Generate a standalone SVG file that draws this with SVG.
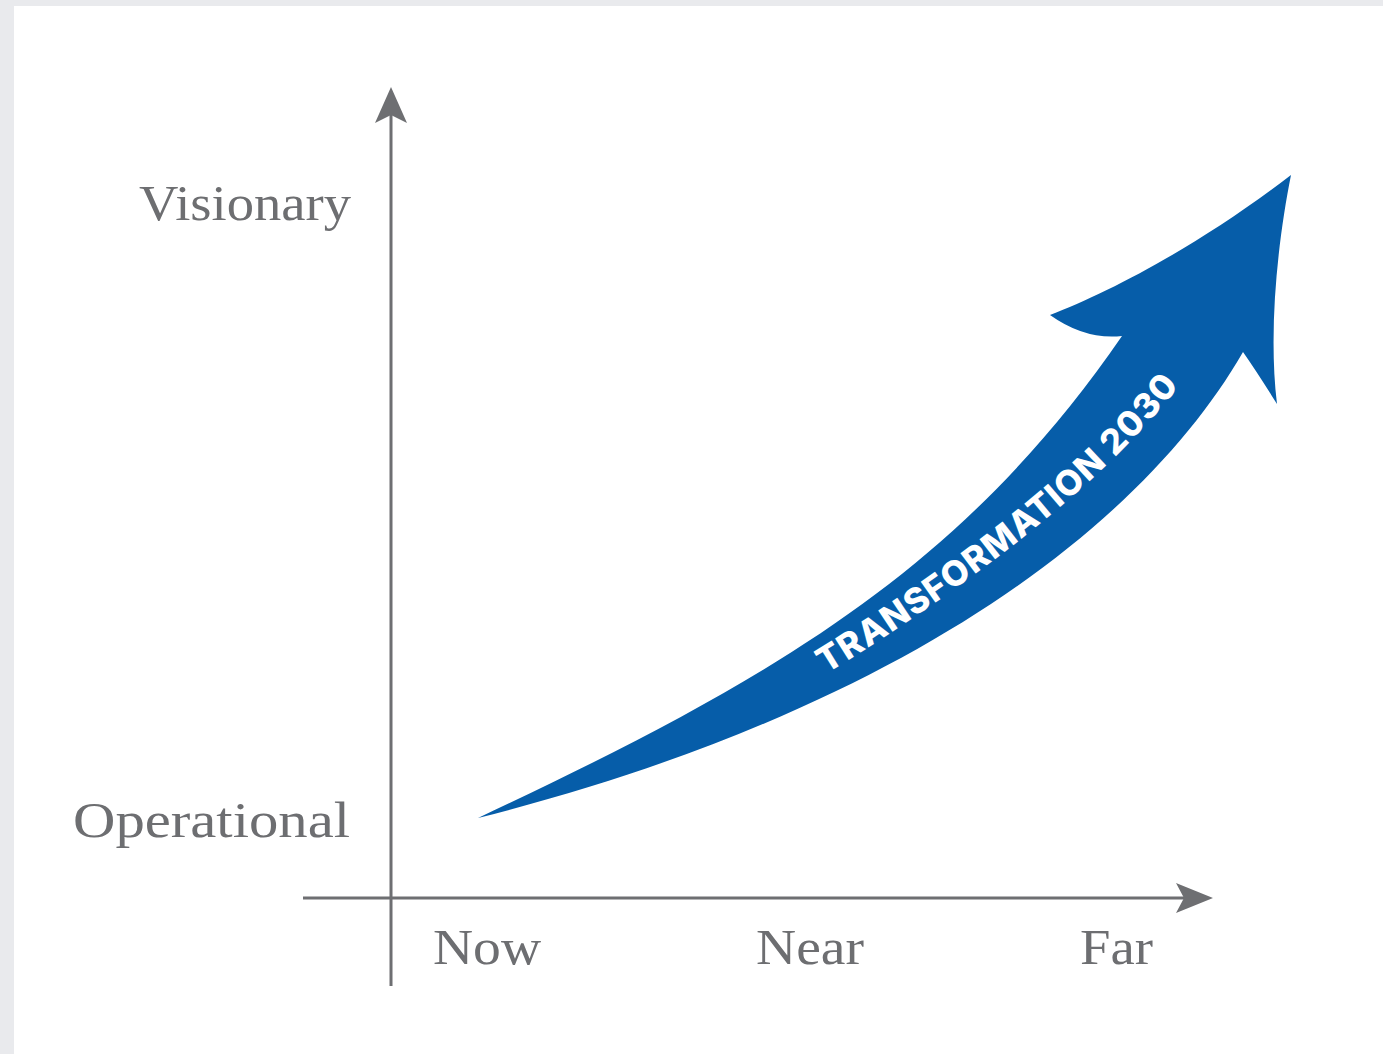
<svg xmlns="http://www.w3.org/2000/svg" width="1383" height="1054" viewBox="0 0 1383 1054">
  <defs>
    <style>
      .axis { stroke: #6e6f72; stroke-width: 3; fill: none; }
      .head { fill: #6e6f72; }
      .lbl { font-family: "Liberation Serif", "DejaVu Serif", serif; font-size: 50px; fill: #6d6e71; }
      .band { fill: #065da9; }
      .bandtxt { font-family: Inter, "Open Sans", "Liberation Sans", sans-serif; font-weight: 800; font-size: 35px; fill: #ffffff; }
    </style>
    <path id="textline" d="M826,674 Q1071,523 1181,384"/>
  </defs>

  <rect x="0" y="0" width="1383" height="1054" fill="#e9eaed"/>
  <rect x="14" y="6" width="1369" height="1048" fill="#ffffff"/>

  <g id="connectors">
    <line class="axis" x1="391" y1="986" x2="391" y2="112"/>
    <polygon class="head" points="391,87 375,123 391,115 407,123"/>
    <line class="axis" x1="303" y1="898" x2="1188" y2="898"/>
    <polygon class="head" points="1213,898 1176,883 1184,898 1176,913"/>
  </g>

  <g id="label-visionary">
    <text class="lbl" x="139" y="220" textLength="212" lengthAdjust="spacingAndGlyphs">Visionary</text>
  </g>
  <g id="label-operational">
    <text class="lbl" x="73" y="837" textLength="277" lengthAdjust="spacingAndGlyphs">Operational</text>
  </g>
  <g id="label-now">
    <text class="lbl" x="433" y="964" textLength="108" lengthAdjust="spacingAndGlyphs">Now</text>
  </g>
  <g id="label-near">
    <text class="lbl" x="756" y="964" textLength="108" lengthAdjust="spacingAndGlyphs">Near</text>
  </g>
  <g id="label-far">
    <text class="lbl" x="1080" y="964" textLength="73" lengthAdjust="spacingAndGlyphs">Far</text>
  </g>

  <g id="transformation-arrow">
    <path class="band" d="M478,818 C778,677 962,568 1122,336 Q1085,340 1050,315 C1110,292 1200,245 1291,175 C1278,240 1268,330 1277,404 Q1257,372 1243,352 C1145,522 908,709 478,818 Z"/>
    <text class="bandtxt"><textPath href="#textline" textLength="458" lengthAdjust="spacing">TRANSFORMATION 2030</textPath></text>
  </g>
</svg>
